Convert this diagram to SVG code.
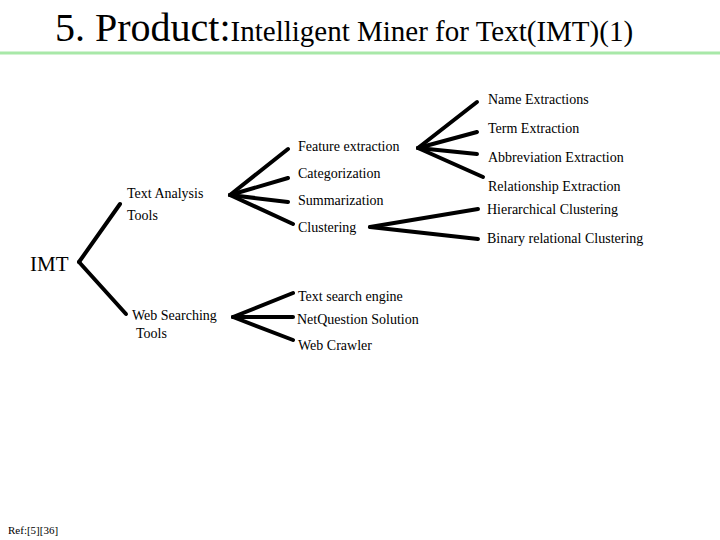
<svg xmlns="http://www.w3.org/2000/svg" width="720" height="540" viewBox="0 0 720 540" font-family="'Liberation Serif', 'DejaVu Serif', serif">
<style>
text{font-family:'Liberation Serif','DejaVu Serif',serif;fill:#000}
.l{font-size:14px}
#connectors line{stroke:#000;stroke-width:4;stroke-linecap:round}
</style>
<rect width="720" height="540" fill="#fff"/>
<g id="title">
<text x="55" y="41"><tspan font-size="40">5. Product:</tspan><tspan font-size="29">Intelligent Miner for Text(IMT)(1)</tspan></text>
<line x1="0" y1="53" x2="720" y2="53" stroke="#a8e8a8" stroke-width="3"/>
</g>
<g id="connectors">
<line x1="79" y1="262" x2="120" y2="204"/>
<line x1="79" y1="262" x2="126" y2="314"/>
<line x1="230" y1="195" x2="288" y2="149"/>
<line x1="230" y1="195" x2="288" y2="178"/>
<line x1="230" y1="195" x2="288" y2="202"/>
<line x1="230" y1="195" x2="293" y2="224"/>
<line x1="418" y1="148" x2="477" y2="102"/>
<line x1="418" y1="148" x2="477" y2="132"/>
<line x1="418" y1="148" x2="477" y2="154"/>
<line x1="418" y1="148" x2="483" y2="177"/>
<line x1="370" y1="227" x2="478" y2="209"/>
<line x1="370" y1="227" x2="478" y2="239"/>
<line x1="233" y1="317" x2="293" y2="293"/>
<line x1="233" y1="317" x2="293" y2="317"/>
<line x1="233" y1="317" x2="293" y2="340"/>
</g>
<g id="imt"><text x="30" y="271" font-size="21">IMT</text></g>
<g id="text-analysis"><text class="l" x="127" y="198">Text Analysis</text><text class="l" x="127" y="220">Tools</text></g>
<g id="web-searching"><text class="l" x="132" y="320">Web Searching</text><text class="l" x="136" y="338">Tools</text></g>
<g id="feature"><text class="l" x="298" y="151">Feature extraction</text></g>
<g id="categorization"><text class="l" x="298" y="178">Categorization</text></g>
<g id="summarization"><text class="l" x="298" y="205">Summarization</text></g>
<g id="clustering"><text class="l" x="298" y="232">Clustering</text></g>
<g id="name"><text class="l" x="488" y="104">Name Extractions</text></g>
<g id="term"><text class="l" x="488" y="133">Term Extraction</text></g>
<g id="abbrev"><text class="l" x="488" y="162">Abbreviation Extraction</text></g>
<g id="relation"><text class="l" x="488" y="191">Relationship Extraction</text></g>
<g id="hier"><text class="l" x="487" y="214">Hierarchical Clustering</text></g>
<g id="binary"><text class="l" x="487" y="243">Binary relational Clustering</text></g>
<g id="tse"><text class="l" x="298" y="301">Text search engine</text></g>
<g id="netq"><text class="l" x="297" y="324">NetQuestion Solution</text></g>
<g id="crawler"><text class="l" x="298" y="350">Web Crawler</text></g>
<g id="ref"><text x="8" y="534" font-size="11">Ref:[5][36]</text></g>
</svg>
